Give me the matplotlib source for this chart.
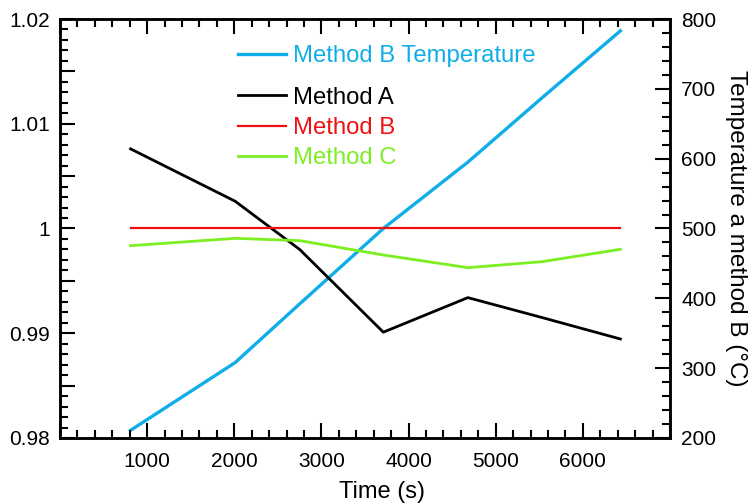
import matplotlib
matplotlib.use("Agg")
import matplotlib.pyplot as plt
from matplotlib.ticker import MultipleLocator, FuncFormatter

plt.rcParams['font.family'] = ['Liberation Sans', 'DejaVu Sans']

# values
time_s = [810, 2010, 2750, 3710, 4680, 5530, 6430]
method_a = [1.0076, 1.0026, 0.9980, 0.9901, 0.9934, 0.9915, 0.98945]
method_b = [1.0, 1.0, 1.0, 1.0, 1.0, 1.0, 1.0]
method_c = [0.99836, 0.99906, 0.99884, 0.99747, 0.99626, 0.99683, 0.99801]
temp_b = [211, 308, 392, 500, 595, 687, 783]

blue = '#10aee8'
red = '#ee1111'
green = '#7cee22'


def style_ticks(axis):
    axis.tick_params(which='both', direction='in', width=1.5, labelsize=15, pad=7)
    axis.tick_params(which='major', length=11)
    axis.tick_params(which='minor', length=6)


fig, ax1 = plt.subplots(figsize=(7.52, 5.04), dpi=100)
fig.subplots_adjust(left=0.0798, right=0.891, top=0.9623, bottom=0.131)
ax2 = ax1.twinx()

ax1.plot(time_s, method_a, color='black', lw=2.0, label='Method A')
ax1.plot(time_s, method_b, color=red, lw=1.6, label='Method B')
ax1.plot(time_s, method_c, color=green, lw=2.0, label='Method C')
ax2.plot(time_s, temp_b, color=blue, lw=2.4, label='Method B Temperature')

ax1.set_xlim(0, 7000)
ax1.set_ylim(0.98, 1.02)
ax2.set_ylim(200, 800)

ax1.xaxis.set_major_locator(MultipleLocator(1000))
ax1.xaxis.set_minor_locator(MultipleLocator(200))
ax1.xaxis.set_major_formatter(FuncFormatter(lambda v, p: '' if v == 0 or v == 7000 else f'{v:.0f}'))
ax1.yaxis.set_major_locator(MultipleLocator(0.005))
ax1.yaxis.set_minor_locator(MultipleLocator(0.001))
ax1.yaxis.set_major_formatter(FuncFormatter(
    lambda v, p: '' if round(v * 1000) % 10 else f'{v:.2f}'.rstrip('0').rstrip('.')))
ax2.yaxis.set_major_locator(MultipleLocator(100))
ax2.yaxis.set_minor_locator(MultipleLocator(20))

style_ticks(ax1)
style_ticks(ax2)
ax1.tick_params(which='both', top=True, right=False)
ax1.tick_params(axis='x', pad=10)
ax2.tick_params(which='both', right=True, left=False, pad=8)

for axis in (ax1, ax2):
    for sp in axis.spines.values():
        sp.set_linewidth(1.8)

ax1.set_xlabel('Time (s)', fontsize=17)
ax1.xaxis.set_label_coords(0.528, -0.102)
ax2.set_ylabel('Temperature a method B (°C)', fontsize=17.5, rotation=270,
               va='bottom', labelpad=6.5)

leg1 = ax2.legend(loc='center left', bbox_to_anchor=(0.292, 0.912), frameon=False,
                  fontsize=17.2, handlelength=2.0, handletextpad=0.28,
                  borderpad=0, borderaxespad=0, labelcolor='linecolor')
leg2 = ax1.legend(loc='center left', bbox_to_anchor=(0.292, 0.740), frameon=False,
                  fontsize=17.2, handlelength=2.0, handletextpad=0.28,
                  borderpad=0, borderaxespad=0, labelspacing=0.34,
                  labelcolor='linecolor')
ax1.set_zorder(ax2.get_zorder() + 1)
ax1.patch.set_visible(False)

fig.savefig('out.png', dpi=100)
